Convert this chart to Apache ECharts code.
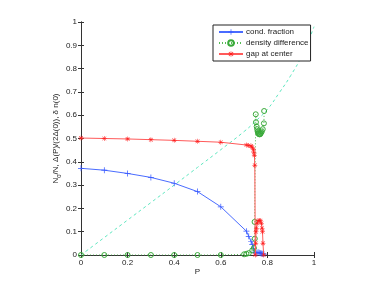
<!DOCTYPE html>
<html><head><meta charset="utf-8">
<script src="https://cdn.jsdelivr.net/npm/echarts@6/dist/echarts.min.js"></script>
<style>html,body{margin:0;padding:0;background:#fff}#c{width:382px;height:287px}</style>
</head><body><div id="c"></div>
<script>
// cond. fraction
var condP = [0, 0.1, 0.2, 0.3, 0.4, 0.5, 0.6, 0.71, 0.72, 0.73, 0.735, 0.74, 0.745, 0.75, 0.755, 0.76, 0.765, 0.77, 0.775, 0.78, 0.785];
var condY = [0.372, 0.364, 0.35, 0.333, 0.308, 0.272, 0.207, 0.102, 0.08, 0.058, 0.045, 0.028, 0.012, 0.008, 0.01, 0.012, 0.01, 0.008, 0.006, 0.005, 0.004];
// density difference
var densP = [0, 0.1, 0.2, 0.3, 0.4, 0.5, 0.6, 0.7, 0.71, 0.72, 0.735, 0.742, 0.746, 0.745, 0.75, 0.751, 0.754, 0.756, 0.758, 0.76, 0.762, 0.765, 0.768, 0.77, 0.773, 0.776, 0.78, 0.785, 0.786];
var densY = [0, 0, 0, 0, 0, 0, 0, 0.003, 0.005, 0.008, 0.02, 0.03, 0.07, 0.142, 0.604, 0.57, 0.551, 0.54, 0.53, 0.525, 0.52, 0.518, 0.518, 0.52, 0.525, 0.53, 0.54, 0.565, 0.618];
// gap at center
var gapP = [0, 0.1, 0.2, 0.3, 0.4, 0.5, 0.6, 0.71, 0.72, 0.73, 0.735, 0.74, 0.742, 0.744, 0.746, 0.748, 0.75, 0.751, 0.753, 0.756, 0.76, 0.765, 0.77, 0.774, 0.777, 0.779, 0.781, 0.784];
var gapY = [0.502, 0.5, 0.498, 0.495, 0.492, 0.488, 0.484, 0.472, 0.47, 0.468, 0.462, 0.452, 0.44, 0.428, 0.385, 0, 0.05, 0.1, 0.115, 0.136, 0.147, 0.148, 0.147, 0.136, 0.115, 0.1, 0.05, 0];
// dashed reference curve
var curveP = [0, 0.1, 0.2, 0.3, 0.4, 0.5, 0.6, 0.7, 0.75, 0.8, 0.85, 0.9, 0.95, 1.0];
var curveY = [0, 0.075, 0.15, 0.225, 0.3, 0.376, 0.452, 0.53, 0.575, 0.625, 0.695, 0.77, 0.86, 0.98];

var xTicks = [0, 0.2, 0.4, 0.6, 0.8, 1];
var yTicks = [0, 0.1, 0.2, 0.3, 0.4, 0.5, 0.6, 0.7, 0.8, 0.9, 1];

function pairs(a, b) { return a.map(function (v, i) { return [v, b[i]]; }); }

var FONT = "'Liberation Sans', Arial, sans-serif";
var axisCommon = {
  type: 'value', min: 0, max: 1,
  axisLine: { show: true, lineStyle: { color: '#333', width: 1 } },
  axisTick: { show: true, inside: true, length: 3, lineStyle: { color: '#333' } },
  splitLine: { show: false },
  axisLabel: { fontSize: 8, color: '#222', fontFamily: FONT, margin: 4 }
};
function ax(extra) { return Object.assign({}, JSON.parse(JSON.stringify(axisCommon)), extra); }

var plusPath = 'path://M4.4,0H5.6V4.4H10V5.6H5.6V10H4.4V5.6H0V4.4H4.4Z';
var starPath = 'path://M4.5,0H5.5V3.8L8.5,1L9.2,1.7L6.2,4.5H10V5.5H6.2L9.2,8.3L8.5,9L5.5,6.2V10H4.5V6.2L1.5,9L0.8,8.3L3.8,5.5H0V4.5H3.8L0.8,1.7L1.5,1L4.5,3.8Z';

var chart = echarts.init(document.getElementById('c'), null, { renderer: 'canvas' });
chart.setOption({
  animation: false,
  backgroundColor: '#fff',
  textStyle: { fontFamily: FONT },
  grid: { left: 81, top: 22, width: 233, height: 233 },
  xAxis: [
    ax({ position: 'bottom', interval: xTicks[1] - xTicks[0], name: 'P', nameLocation: 'middle', nameGap: 13,
         nameMoveOverlap: false,
         nameTextStyle: { fontSize: 8, color: '#222', fontFamily: FONT } }),
    ax({ position: 'top', interval: xTicks[1] - xTicks[0], axisLabel: { show: false } })
  ],
  yAxis: [
    ax({ position: 'left', interval: yTicks[1] - yTicks[0], nameLocation: 'middle', nameGap: 19,
         nameMoveOverlap: false,
         name: '{a|N}{s|0}{a|/N, Δ(P)/(2Δ(0)), δ n(0)}',
         nameTextStyle: { fontSize: 8, color: '#222', fontFamily: FONT,
           rich: { a: { fontSize: 8, color: '#222', fontFamily: FONT, lineHeight: 12, verticalAlign: 'middle' },
                   s: { fontSize: 6, color: '#222', fontFamily: FONT, lineHeight: 12, verticalAlign: 'bottom' } } } }),
    ax({ position: 'right', interval: yTicks[1] - yTicks[0], axisLabel: { show: false } })
  ],
  legend: {
    orient: 'vertical', left: 213, top: 25, width: 98,
    padding: [3, 2, 3, 5], itemGap: 3, itemWidth: 24, itemHeight: 7,
    backgroundColor: '#fff', borderColor: '#222', borderWidth: 1, borderRadius: 0,
    textStyle: { fontSize: 8, color: '#222', fontFamily: FONT, padding: [0, 0, 0, -2] },
    data: ['cond. fraction', 'density difference', 'gap at center']
  },
  series: [
    { name: 'cond. fraction', type: 'line', data: pairs(condP, condY), symbol: plusPath, symbolSize: 6,
      showAllSymbol: true, lineStyle: { color: '#4a6cff', width: 1 }, itemStyle: { color: '#3355ff' }, z: 3 },
    { name: 'density difference', type: 'line', data: pairs(densP, densY), symbol: 'circle', symbolSize: 5,
      showAllSymbol: true, lineStyle: { color: '#55bb55', width: 1, type: [1, 2] },
      itemStyle: { color: 'rgba(255,255,255,0)', borderColor: '#3aaa3a', borderWidth: 1 }, z: 4 },
    { name: 'gap at center', type: 'line', data: pairs(gapP, gapY), symbol: starPath, symbolSize: 5,
      showAllSymbol: true, lineStyle: { color: '#ff5a5a', width: 1 }, itemStyle: { color: '#ff1a1a' }, z: 5 },
    { name: 'curve', type: 'line', data: pairs(curveP, curveY), symbol: 'none', smooth: true,
      lineStyle: { color: '#5ee6bf', width: 1, type: [3, 3] }, z: 2 }
  ]
});
</script></body></html>
